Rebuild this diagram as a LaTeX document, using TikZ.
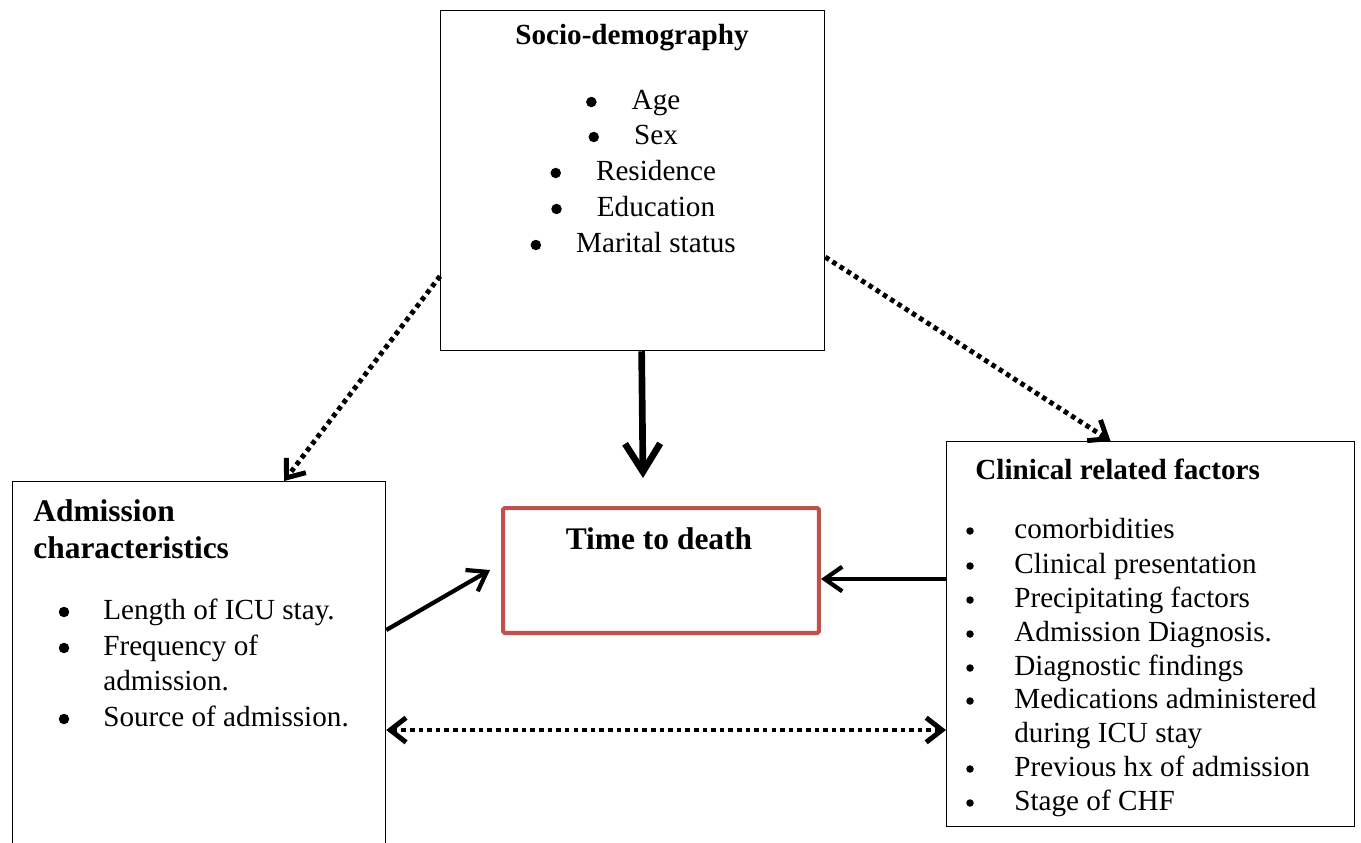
\documentclass[tikz,border=0pt]{standalone}
\usepackage{fontspec}
\setmainfont{Liberation Serif}
\usetikzlibrary{arrows.meta,calc}

\definecolor{deathred}{HTML}{C0504D}
\newcommand{\listfont}{\fontsize{16.6}{20}\selectfont}
\newcommand{\headfont}{\fontsize{16.6}{20}\selectfont\bfseries}
\newcommand{\bigheadfont}{\fontsize{17.9}{22}\selectfont\bfseries}

\tikzset{
  box/.style={draw, line width=0.75pt, anchor=north west, inner sep=0},
  listtext/.style={anchor=mid west, inner sep=0, font=\listfont},
  dot/.style={circle, fill, inner sep=0, minimum size=0.21cm},
  dottedarrow/.style={line width=2.8pt, dash pattern=on 2.6pt off 2.3pt,
    -{Straight Barb[length=9pt,width=14pt]}},
  dottedboth/.style={line width=2.8pt, dash pattern=on 2.6pt off 2.3pt,
    {Straight Barb[length=9pt,width=14pt]}-{Straight Barb[length=9pt,width=14pt]}},
  solidarrow/.style={line width=2.4pt, -{Straight Barb[length=10pt,width=14pt]}},
  mainarrow/.style={line width=3.8pt, -{Straight Barb[length=16pt,width=20pt]}}
}

\begin{document}
\begin{tikzpicture}[x=0.02cm, y=-0.02cm]
    \useasboundingbox (0,0) rectangle (1361,842);

    % Boxes
    \node[box, minimum width=7.68cm, minimum height=6.8cm] (socio) at (440,10) {};
    \node[box, minimum width=7.46cm, minimum height=7.8cm] (adm) at (12,481) {};
    \node[box, draw=deathred, line width=2.3pt, rounded corners=1pt,
      minimum width=6.32cm, minimum height=2.5cm] (time) at (501,506) {};
    \node[box, minimum width=8.16cm, minimum height=7.7cm] (clin) at (946,441) {};

    % Socio-demography
    \node[font=\headfont, inner sep=0] (sociotitle) at (632,38) {Socio-demography};
    \foreach \t/\y [count=\i] in {Age/105, Sex/140, Residence/176, Education/212, Marital status/248} {
        \node[listtext, anchor=mid] (s\i) at (656,\y) {\t};
        \node[dot] at ($(s\i.mid west)+(-40,-3)$) {};
    }

    % Time to death
    \node[font=\bigheadfont, inner sep=0] (timetitle) at (659,539) {Time to death};

    % Admission characteristics
    \node[font=\bigheadfont, inner sep=0, anchor=west] (admtitle1) at (33,511) {Admission};
    \node[font=\bigheadfont, inner sep=0, anchor=west] (admtitle2) at (33,548) {characteristics};
    \foreach \t/\y [count=\i] in {Length of ICU stay./615, Frequency of/651, Source of admission./722} {
        \node[listtext] (a\i) at (103,\y) {\t};
        \node[dot] at ($(a\i.mid west)+(-39,-3)$) {};
    }
    \node[listtext] (a2b) at (103,686) {admission.};

    % Clinical related factors
    \node[font=\headfont, inner sep=0, anchor=west] (clintitle) at (975,469) {Clinical related factors};
    \foreach \t/\y [count=\i] in {comorbidities/534, Clinical presentation/569, Precipitating factors/603,
        Admission Diagnosis./637, Diagnostic findings/671, Medications administered/704,
        Previous hx of admission/772, Stage of CHF/806} {
        \node[listtext] (c\i) at (1014,\y) {\t};
        \node[dot, minimum size=0.15cm] at ($(c\i.mid west)+(-44,-3)$) {};
    }
    \node[listtext] (c6b) at (1014,738) {during ICU stay};

    % Connectors
    \draw[dottedarrow] ($(socio.north west)!0.78!(socio.south west)$) -- ($(adm.north west)!0.727!(adm.north east)$);
    \draw[dottedarrow] ($(socio.north east)!0.724!(socio.south east)$) -- ($(clin.north west)!0.402!(clin.north east)$);
    \draw[mainarrow] ($(socio.south)+(9,0)$) -- ($(time.north)+(-18,-28)$);
    \draw[solidarrow] ($(adm.north east)+(0,149)$) -- ($(time.north west)+(-11,64)$);
    \coordinate (cl) at ($(clin.north west)+(0,138)$);
    \draw[solidarrow] (cl) -- (cl -| time.east);
    \coordinate (ad) at ($(adm.north east)+(0,249)$);
    \draw[dottedboth] (ad) -- (ad -| clin.west);
\end{tikzpicture}
\end{document}
